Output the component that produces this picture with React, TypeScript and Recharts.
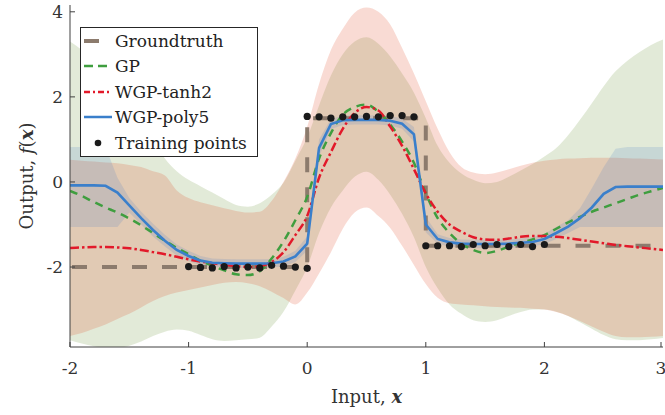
import React from 'react';
import { ComposedChart, Area, Line, Scatter, XAxis, YAxis } from 'recharts';

// input grid of the model predictions
const xs = [
  -2, -1.9, -1.8, -1.7, -1.6, -1.5, -1.4, -1.3, -1.2, -1.1,
  -1, -0.9, -0.8, -0.7, -0.6, -0.5, -0.4, -0.3, -0.2, -0.1,
  0, 0.1, 0.2, 0.3, 0.4, 0.5, 0.6, 0.7, 0.8, 0.9,
  1, 1.1, 1.2, 1.3, 1.4, 1.5, 1.6, 1.7, 1.8, 1.9,
  2, 2.1, 2.2, 2.3, 2.4, 2.5, 2.6, 2.7, 2.8, 2.9, 3,
];

// GP
const gpMean = [
  -0.21, -0.33, -0.47, -0.6, -0.72, -0.86, -1.02, -1.2, -1.38, -1.55,
  -1.7, -1.85, -1.97, -2.08, -2.17, -2.19, -2.1, -1.8, -1.4, -0.9,
  -0.35, 0.55, 1.15, 1.58, 1.76, 1.82, 1.65, 1.35, 0.95, 0.45,
  -0.27, -0.85, -1.2, -1.45, -1.6, -1.67, -1.62, -1.52, -1.43, -1.35,
  -1.25, -1.1, -0.95, -0.82, -0.7, -0.6, -0.5, -0.4, -0.3, -0.22, -0.14,
];
const gpLo = [
  -3.72, -3.8, -3.86, -3.9, -3.9, -3.85, -3.75, -3.62, -3.52, -3.47,
  -3.5, -3.6, -3.7, -3.74, -3.72, -3.7, -3.66, -3.4, -3.05, -2.55,
  -2.0, -1.2, -0.6, -0.2, 0.12, 0.24, 0.05, -0.3, -0.75, -1.3,
  -2.0, -2.5, -2.88, -3.1, -3.25, -3.29, -3.25, -3.15, -3.06, -3.0,
  -3.0, -3.05, -3.15, -3.3, -3.45, -3.6, -3.7, -3.72, -3.72, -3.7, -3.67,
];
const gpHi = [
  3.3, 3.1, 2.85, 2.55, 2.2, 1.85, 1.45, 1.0, 0.55, 0.25,
  0.05, -0.1, -0.25, -0.4, -0.54, -0.58, -0.5, -0.3, -0.02, 0.5,
  1.05, 1.8, 2.5, 3.0, 3.3, 3.4, 3.25, 2.95, 2.55, 2.1,
  1.5, 0.85, 0.45, 0.2, 0.05, -0.03, 0.0, 0.12, 0.27, 0.42,
  0.6, 0.8, 1.1, 1.46, 1.85, 2.25, 2.6, 2.85, 3.05, 3.22, 3.35,
];

// WGP-tanh2
const tanhMean = [
  -1.55, -1.54, -1.53, -1.53, -1.54, -1.56, -1.6, -1.65, -1.7, -1.76,
  -1.82, -1.87, -1.91, -1.95, -1.98, -2.0, -1.98, -1.88, -1.65, -1.25,
  -0.8, 0.1, 0.7, 1.25, 1.62, 1.76, 1.68, 1.3, 0.85, 0.3,
  -0.27, -0.7, -1.0, -1.17, -1.3, -1.35, -1.36, -1.33, -1.29, -1.27,
  -1.27, -1.29, -1.32, -1.36, -1.4, -1.44, -1.48, -1.51, -1.54, -1.57, -1.6,
];
const tanhLo = [
  -3.62, -3.55, -3.45, -3.35, -3.22, -3.1, -2.95, -2.8, -2.68, -2.6,
  -2.54, -2.48, -2.42, -2.37, -2.35, -2.38, -2.45, -2.58, -2.73, -2.88,
  -2.6, -2.15, -1.65, -1.1, -0.72, -0.6, -0.8, -1.08, -1.5, -1.95,
  -2.4, -2.72, -2.85, -2.88, -2.9, -2.92, -2.94, -2.95, -2.96, -2.98,
  -3.0, -3.06, -3.15, -3.27, -3.4, -3.52, -3.62, -3.65, -3.65, -3.64, -3.62,
];
const tanhHi = [
  0.52, 0.5, 0.48, 0.46, 0.44, 0.4, 0.35, 0.25, 0.15, -0.2,
  -0.38, -0.48, -0.55, -0.62, -0.68, -0.72, -0.7, -0.45, 0.0, 0.55,
  1.3, 2.3, 3.1, 3.6, 3.98, 4.1, 4.0, 3.7, 3.15, 2.55,
  1.9, 1.25, 0.7, 0.35, 0.22, 0.18, 0.22, 0.3, 0.38, 0.45,
  0.5, 0.53, 0.55, 0.56, 0.57, 0.57, 0.57, 0.56, 0.55, 0.54, 0.53,
];

// WGP-poly5
const polyMean = [
  -0.08, -0.08, -0.08, -0.09, -0.25, -0.55, -0.85, -1.13, -1.38, -1.6,
  -1.74, -1.85, -1.9, -1.91, -1.92, -1.92, -1.92, -1.91, -1.87, -1.75,
  -1.45, 0.8, 1.36, 1.45, 1.46, 1.46, 1.46, 1.44, 1.37, 1.12,
  -1.0, -1.34, -1.42, -1.45, -1.46, -1.46, -1.46, -1.45, -1.43, -1.41,
  -1.34, -1.2, -1.05, -0.85, -0.6, -0.28, -0.12, -0.11, -0.11, -0.11, -0.11,
];
const polyLo = [
  -1.06, -1.06, -1.06, -1.06, -1.06, -0.72, -1.0, -1.28, -1.52, -1.73,
  -1.86, -1.96, -2.0, -2.01, -2.02, -2.02, -2.02, -2.01, -1.98, -1.88,
  -1.62, 0.6, 1.24, 1.34, 1.35, 1.35, 1.35, 1.33, 1.25, 0.95,
  -1.18, -1.45, -1.52, -1.55, -1.56, -1.56, -1.56, -1.55, -1.53, -1.52,
  -1.46, -1.34, -1.2, -1.06, -1.06, -1.06, -1.06, -1.06, -1.06, -1.06, -1.06,
];
const polyHi = [
  0.82, 0.82, 0.82, 0.82, 0.1, -0.38, -0.7, -0.98, -1.24, -1.47,
  -1.62, -1.74, -1.8, -1.81, -1.82, -1.82, -1.82, -1.81, -1.76, -1.62,
  -1.28, 1.0, 1.48, 1.56, 1.57, 1.57, 1.57, 1.55, 1.49, 1.29,
  -0.82, -1.23, -1.32, -1.35, -1.36, -1.36, -1.36, -1.35, -1.33, -1.3,
  -1.22, -1.06, -0.9, -0.62, -0.15, 0.35, 0.78, 0.82, 0.82, 0.82, 0.82,
];

// ground truth step function
const truthX = [-2, 0, 0, 1, 1, 3];
const truthY = [-2, -2, 1.5, 1.5, -1.5, -1.5];

// training points
const trainX = [
  -1, -0.9, -0.8, -0.7, -0.6, -0.5, -0.4, -0.3, -0.2, -0.1, 0,
  0, 0.1, 0.2, 0.3, 0.4, 0.5, 0.6, 0.7, 0.8, 0.9,
  1, 1.1, 1.2, 1.3, 1.4, 1.5, 1.6, 1.7, 1.8, 1.9, 2,
];
const trainY = [
  -1.99, -2.01, -2.02, -1.99, -2.02, -2.0, -2.02, -1.96, -1.98, -2.0, -2.03,
  1.54, 1.53, 1.5, 1.53, 1.53, 1.54, 1.53, 1.56, 1.56, 1.53,
  -1.5, -1.5, -1.5, -1.52, -1.47, -1.5, -1.47, -1.52, -1.47, -1.52, -1.47,
];

const xTicks = [-2, -1, 0, 1, 2, 3];
const yTicks = [-2, 0, 2, 4];

const rows = xs.map((x, i) => ({
  x,
  gp: gpMean[i],
  gpBand: [gpLo[i], gpHi[i]],
  tanh: tanhMean[i],
  tanhBand: [tanhLo[i], tanhHi[i]],
  poly: polyMean[i],
  polyBand: [polyLo[i], polyHi[i]],
}));
const truth = truthX.map((x, i) => ({ x, y: truthY[i] }));
const train = trainX.map((x, i) => ({ x, y: trainY[i] }));

const FONT = "'DejaVu Serif', 'Liberation Serif', serif";
const AXIS = '#404040';
const GREEN = '#3f9e3f';
const RED = '#e2192a';
const BLUE = '#3a7fcb';
const TRUTH = '#8c7b6d';

const YTick = (props: any) => {
  const { x, y, payload } = props;
  return (
    <g>
      <line x1={x} x2={x + 5} y1={y} y2={y} stroke={AXIS} strokeWidth={1} />
      <text x={x - 7} y={y} dy="0.36em" textAnchor="end" fontFamily={FONT} fontSize={17} fill="#333">
        {payload.value}
      </text>
    </g>
  );
};

const XTick = (props: any) => {
  const { x, y, payload } = props;
  return (
    <g>
      <line x1={x} x2={x} y1={y} y2={y - 5} stroke={AXIS} strokeWidth={1} />
      <text x={x} y={y + 27} textAnchor="middle" fontFamily={FONT} fontSize={17} fill="#333">
        {payload.value}
      </text>
    </g>
  );
};

const XLabel = (props: any) => {
  const { viewBox } = props;
  const cx = viewBox.x + viewBox.width / 2;
  return (
    <text x={cx} y={viewBox.y + 56} textAnchor="middle" fontFamily={FONT} fontSize={18} fill="#333">
      Input, <tspan fontStyle="italic" fontWeight="bold">x</tspan>
    </text>
  );
};

const YLabel = (props: any) => {
  const { viewBox } = props;
  const cy = viewBox.y + viewBox.height / 2;
  const lx = 27;
  return (
    <text
      x={lx}
      y={cy}
      transform={`rotate(-90 ${lx} ${cy})`}
      textAnchor="middle"
      dy="0.35em"
      fontFamily={FONT}
      fontSize={18}
      fill="#333"
    >
      Output, <tspan fontStyle="italic">f</tspan>(<tspan fontStyle="italic" fontWeight="bold">x</tspan>)
    </text>
  );
};

const legendItems = [
  { name: 'Groundtruth', kind: 'truth' },
  { name: 'GP', kind: 'gp' },
  { name: 'WGP-tanh2', kind: 'tanh' },
  { name: 'WGP-poly5', kind: 'poly' },
  { name: 'Training points', kind: 'train' },
];

function Sample({ kind }: { kind: string }) {
  return (
    <svg width={32} height={12} style={{ display: 'block' }}>
      {kind === 'truth' && <line x1={2} x2={17} y1={6} y2={6} stroke={TRUTH} strokeWidth={4} />}
      {kind === 'gp' && <line x1={2} x2={26} y1={6} y2={6} stroke={GREEN} strokeWidth={2.5} strokeDasharray="9 5" />}
      {kind === 'tanh' && <line x1={2} x2={30} y1={6} y2={6} stroke={RED} strokeWidth={2.5} strokeDasharray="6 3 2 3" />}
      {kind === 'poly' && <line x1={2} x2={30} y1={6} y2={6} stroke={BLUE} strokeWidth={2.5} />}
      {kind === 'train' && <circle cx={16} cy={6} r={3.3} fill="#1a1a1a" />}
    </svg>
  );
}

const Dot = (props: any) => {
  const { cx, cy } = props;
  return <circle cx={cx} cy={cy} r={3.6} fill="#1a1a1a" />;
};

export default function App() {
  return (
    <div style={{ position: 'absolute', left: 0, top: 0, width: 665, height: 415, background: '#fff', fontFamily: FONT }}>
      <ComposedChart width={665} height={415} data={rows} margin={{ top: 5, right: 2, left: 0, bottom: 0 }}>
        <XAxis
          dataKey="x"
          type="number"
          domain={[-2, 3]}
          ticks={xTicks}
          allowDataOverflow
          height={68}
          tickSize={0}
          tickMargin={0}
          tickLine={false}
          tick={<XTick />}
          axisLine={{ stroke: AXIS, strokeWidth: 1 }}
          label={<XLabel />}
        />
        <YAxis
          type="number"
          domain={[-3.88, 4.16]}
          ticks={yTicks}
          allowDataOverflow
          width={70}
          tickSize={0}
          tickMargin={0}
          tickLine={false}
          tick={<YTick />}
          axisLine={{ stroke: AXIS, strokeWidth: 1 }}
          label={<YLabel />}
        />
        <Area type="monotone" dataKey="gpBand" stroke="none" fill="#6e963c" fillOpacity={0.2} isAnimationActive={false} />
        <Area type="monotone" dataKey="tanhBand" stroke="none" fill="#e14b28" fillOpacity={0.2} isAnimationActive={false} />
        <Area type="linear" dataKey="polyBand" stroke="none" fill="#3c78c8" fillOpacity={0.16} isAnimationActive={false} />
        <Line
          data={truth}
          dataKey="y"
          type="linear"
          stroke={TRUTH}
          strokeWidth={4}
          strokeDasharray="15 15"
          strokeDashoffset={-2}
          dot={false}
          isAnimationActive={false}
        />
        <Line type="monotone" dataKey="gp" stroke={GREEN} strokeWidth={2.5} strokeDasharray="8 6" dot={false} isAnimationActive={false} />
        <Line type="monotone" dataKey="tanh" stroke={RED} strokeWidth={2.5} strokeDasharray="9 3 2.5 3" dot={false} isAnimationActive={false} />
        <Line type="linear" dataKey="poly" stroke={BLUE} strokeWidth={2.6} dot={false} isAnimationActive={false} />
        <Scatter data={train} dataKey="y" shape={<Dot />} isAnimationActive={false} />
      </ComposedChart>
      <div
        style={{
          position: 'absolute',
          left: 80,
          top: 27,
          width: 176,
          height: 128,
          border: '1px solid #262626',
          background: '#fff',
          boxSizing: 'content-box',
        }}
      >
        {legendItems.map((it) => (
          <div key={it.name} style={{ display: 'flex', alignItems: 'center', height: 25.5, paddingLeft: 1 }}>
            <Sample kind={it.kind} />
            <span style={{ fontSize: 17, color: '#222', whiteSpace: 'nowrap', marginLeft: 1 }}>{it.name}</span>
          </div>
        ))}
      </div>
    </div>
  );
}
